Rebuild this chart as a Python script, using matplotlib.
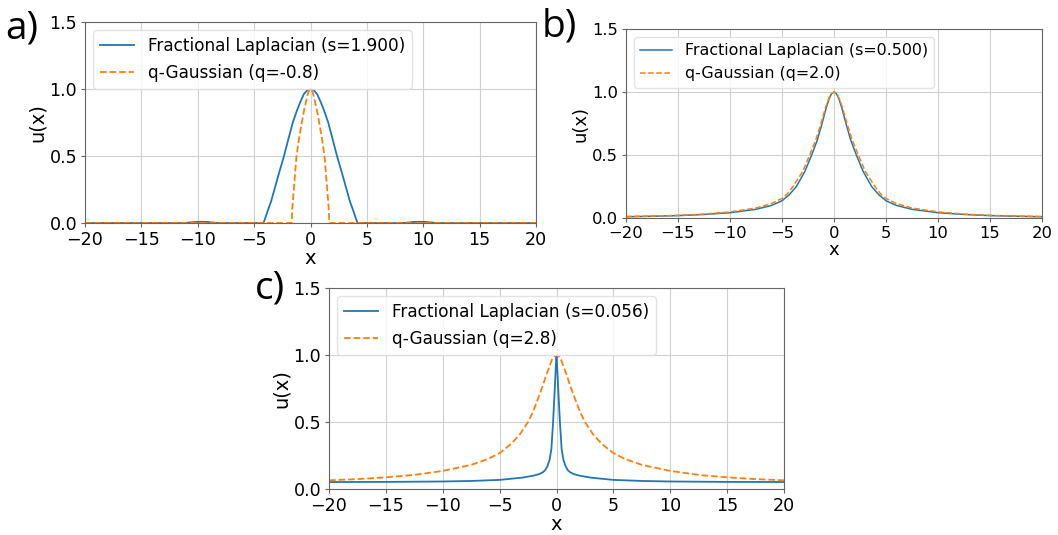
import matplotlib
matplotlib.use("Agg")
import matplotlib.pyplot as plt

# ---------------- data ----------------
# Panel a: s = 1.900, q = -0.8
xa_fl = [-20, -12, -11.2, -10.7, -10.2, -9.7, -9.2, -8.7, -8.2,
         -4.17, -4.0, -3.8, -3.5, -3.2, -2.8, -2.35, -1.95, -1.57, -1.2, -0.92, -0.6, -0.3, 0,
         0.3, 0.6, 0.92, 1.2, 1.57, 1.95, 2.35, 2.8, 3.2, 3.5, 3.8, 4.0, 4.17,
         8.2, 8.7, 9.2, 9.7, 10.2, 10.7, 11.2, 12, 20]
ya_fl = [0, 0, 0, 0.004, 0.008, 0.009, 0.008, 0.004, 0,
         0, 0.04, 0.09, 0.16, 0.25, 0.37, 0.5, 0.63, 0.75, 0.84, 0.9, 0.96, 0.99, 1.0,
         0.99, 0.96, 0.9, 0.84, 0.75, 0.63, 0.5, 0.37, 0.25, 0.16, 0.09, 0.04, 0,
         0, 0.004, 0.008, 0.009, 0.008, 0.004, 0, 0, 0]
xa_qg = [-20, -1.67, -1.62, -1.55, -1.48, -1.36, -1.24, -1.0, -0.77, -0.6, -0.41, -0.3, -0.2, -0.1, 0,
         0.1, 0.2, 0.3, 0.41, 0.6, 0.77, 1.0, 1.24, 1.36, 1.48, 1.55, 1.62, 1.67, 20]
ya_qg = [0, 0, 0.1, 0.18, 0.25, 0.38, 0.5, 0.64, 0.75, 0.83, 0.9, 0.945, 0.972, 0.993, 1.0,
         0.993, 0.972, 0.945, 0.9, 0.83, 0.75, 0.64, 0.5, 0.38, 0.25, 0.18, 0.1, 0, 0]

# Panel b: s = 0.500, q = 2.0
xb_fl = [-20, -17.5, -15, -12.5, -10, -7.5, -6, -5, -4.3, -3.62, -2.8, -2.15, -1.6, -1.15, -0.8, -0.5, -0.25, 0,
         0.25, 0.5, 0.8, 1.15, 1.6, 2.15, 2.8, 3.62, 4.3, 5, 6, 7.5, 10, 12.5, 15, 17.5, 20]
yb_fl = [0.01, 0.014, 0.019, 0.028, 0.042, 0.069, 0.1, 0.137, 0.185, 0.25, 0.37, 0.5, 0.62, 0.75, 0.86, 0.94, 0.985, 1.0,
         0.985, 0.94, 0.86, 0.75, 0.62, 0.5, 0.37, 0.25, 0.185, 0.137, 0.1, 0.069, 0.042, 0.028, 0.019, 0.014, 0.01]
xb_qg = [-20, -17.5, -15, -12.5, -10, -7.5, -6, -5, -4.5, -3.94, -3.0, -2.34, -1.75, -1.25, -0.8, -0.5, -0.25, 0,
         0.25, 0.5, 0.8, 1.25, 1.75, 2.34, 3.0, 3.94, 4.5, 5, 6, 7.5, 10, 12.5, 15, 17.5, 20]
yb_qg = [0.012, 0.015, 0.021, 0.031, 0.048, 0.079, 0.115, 0.155, 0.19, 0.25, 0.37, 0.5, 0.62, 0.75, 0.88, 0.95, 0.987, 1.0,
         0.987, 0.95, 0.88, 0.75, 0.62, 0.5, 0.37, 0.25, 0.19, 0.155, 0.115, 0.079, 0.048, 0.031, 0.021, 0.015, 0.012]

# Panel c: s = 0.056, q = 2.8
xc_fl = [-20, -15, -10, -7.5, -5, -3, -2, -1.5, -1.2, -1.0, -0.8, -0.6, -0.45, -0.3, -0.15, -0.05, 0,
         0.05, 0.15, 0.3, 0.45, 0.6, 0.8, 1.0, 1.2, 1.5, 2, 3, 5, 7.5, 10, 15, 20]
yc_fl = [0.052, 0.053, 0.056, 0.06, 0.068, 0.085, 0.1, 0.112, 0.125, 0.14, 0.17, 0.22, 0.3, 0.5, 0.75, 0.93, 1.0,
         0.93, 0.75, 0.5, 0.3, 0.22, 0.17, 0.14, 0.125, 0.112, 0.1, 0.085, 0.068, 0.06, 0.056, 0.053, 0.052]
xc_qg = [-20, -17.5, -15, -12.5, -10, -7.5, -6, -5, -4, -3.2, -2.5, -2.1, -1.73, -1.23, -0.9, -0.59, -0.4, -0.2, 0,
         0.2, 0.4, 0.59, 0.9, 1.23, 1.73, 2.1, 2.5, 3.2, 4, 5, 6, 7.5, 10, 12.5, 15, 17.5, 20]
yc_qg = [0.065, 0.074, 0.087, 0.105, 0.135, 0.18, 0.225, 0.268, 0.335, 0.41, 0.5, 0.57, 0.65, 0.765, 0.85, 0.92, 0.965, 0.99, 1.0,
         0.99, 0.965, 0.92, 0.85, 0.765, 0.65, 0.57, 0.5, 0.41, 0.335, 0.268, 0.225, 0.18, 0.135, 0.105, 0.087, 0.074, 0.065]

panels = [
    dict(tag="a)", rect=(85, 22, 536, 223), fs=12.2, tfs=12.6, lfs=14, lw=1.3,
         fl=(xa_fl, ya_fl), qg=(xa_qg, ya_qg),
         lab_fl="Fractional Laplacian (s=1.900)", lab_qg="q-Gaussian (q=-0.8)", tagpos=(5, 38)),
    dict(tag="b)", rect=(626, 29, 1042, 218), fs=11.4, tfs=11.8, lfs=13, lw=1.1,
         fl=(xb_fl, yb_fl), qg=(xb_qg, yb_qg),
         lab_fl="Fractional Laplacian (s=0.500)", lab_qg="q-Gaussian (q=2.0)", tagpos=(542, 36)),
    dict(tag="c)", rect=(329, 288, 784, 489), fs=12.2, tfs=12.6, lfs=14, lw=1.3,
         fl=(xc_fl, yc_fl), qg=(xc_qg, yc_qg),
         lab_fl="Fractional Laplacian (s=0.056)", lab_qg="q-Gaussian (q=2.8)", tagpos=(255, 298)),
]

W, H = 1058, 535
fig = plt.figure(figsize=(W / 100, H / 100), dpi=100)
fig.patch.set_facecolor("white")

xticks = [-20, -15, -10, -5, 0, 5, 10, 15, 20]
yticks = [0.0, 0.5, 1.0, 1.5]

for p in panels:
    l, t, r, b = p["rect"]
    ax = fig.add_axes([l / W, 1 - b / H, (r - l) / W, (b - t) / H])
    ax.plot(*p["fl"], color="#1f77b4", lw=p["lw"], label=p["lab_fl"])
    ax.plot(*p["qg"], color="#ff7f0e", lw=p["lw"], ls="--", label=p["lab_qg"])
    ax.set_xlim(-20, 20)
    ax.set_ylim(0, 1.5)
    ax.set_xticks(xticks)
    ax.set_yticks(yticks)
    ax.set_yticklabels(["0.0", "0.5", "1.0", "1.5"])
    ax.tick_params(labelsize=p["tfs"], color="#666666", length=3)
    ax.tick_params(axis="x", pad=2.5)
    ax.tick_params(axis="y", pad=2.5)
    ax.grid(True, color="#d0d0d0", lw=0.8)
    ax.set_axisbelow(True)
    for s in ax.spines.values():
        s.set_color("#666666")
    ax.set_xlabel("x", fontsize=p["lfs"], labelpad=0.5)
    ax.set_ylabel("u(x)", fontsize=p["lfs"], labelpad=2)
    ax.legend(loc="upper left", fontsize=p["fs"], framealpha=0.8, edgecolor="#dddddd")
    fig.text(p["tagpos"][0] / W, 1 - p["tagpos"][1] / H, p["tag"], fontsize=28,
             family=["Open Sans", "DejaVu Sans"], ha="left", va="baseline")

fig.savefig("out.png", dpi=100, facecolor="white")
